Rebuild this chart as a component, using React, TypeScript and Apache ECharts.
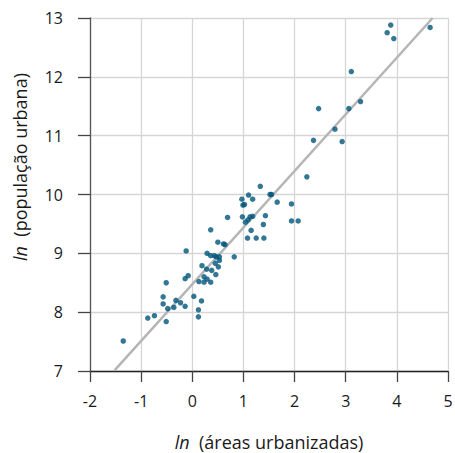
import React, { useEffect, useRef } from "react";
import * as echarts from "echarts";

const areaLn = [
  -1.35, -0.87, -0.74, -0.51, -0.57, -0.57, -0.48, -0.51, -0.36, -0.32,
  -0.23, -0.14, -0.14, -0.08, -0.12, 0.03, 0.12, 0.12, 0.18, 0.13,
  0.23, 0.23, 0.29, 0.36, 0.19, 0.28, 0.38, 0.46, 0.29, 0.36,
  0.43, 0.47, 0.53, 0.53, 0.45, 0.51, 0.36, 0.5, 0.61, 0.64,
  0.69, 0.82, 0.97, 1.1, 0.99, 1.02, 1.18, 0.98, 1.04, 1.09,
  1.13, 1.18, 1.15, 1.08, 1.25, 1.4, 1.39, 1.43, 1.33, 1.52,
  1.55, 1.66, 1.94, 1.94, 2.07, 2.24, 2.37, 2.47, 2.79, 2.93,
  3.06, 3.29, 3.11, 3.81, 3.88, 3.94, 4.65,
];
const popLn = [
  7.51, 7.9, 7.94, 7.84, 8.26, 8.14, 8.06, 8.5, 8.08, 8.2,
  8.16, 8.1, 8.57, 8.62, 9.04, 8.27, 8.04, 7.92, 8.19, 8.52,
  8.6, 8.51, 8.56, 8.51, 8.79, 8.73, 8.71, 8.64, 9.0, 8.96,
  8.96, 8.94, 8.94, 8.88, 8.83, 8.77, 9.4, 9.19, 9.16, 9.15,
  9.61, 8.94, 9.92, 9.99, 9.82, 9.83, 9.92, 9.62, 9.53, 9.57,
  9.62, 9.63, 9.39, 9.26, 9.26, 9.26, 9.49, 9.64, 10.14, 10.0,
  10.0, 9.87, 9.84, 9.55, 9.55, 10.3, 10.92, 11.46, 11.11, 10.9,
  11.46, 11.58, 12.09, 12.75, 12.88, 12.65, 12.84,
];
const fitLine = [
  [-1.52, 7.01],
  [4.7, 13.0],
];
const xTitle = "{i|ln}  (áreas urbanizadas)";
const yTitle = "{i|ln}  (população urbana)";

const FONT = "Open Sans";
const TXT = "#1a1a1a";
const TITLE_SIZE = 18;

export default function App() {
  const ref = useRef<HTMLDivElement>(null);
  useEffect(() => {
    if (!ref.current) return;
    const chart = echarts.init(ref.current, undefined, { renderer: "svg" });
    const rich = {
      i: { fontStyle: "italic", fontFamily: FONT, fontSize: TITLE_SIZE, lineHeight: 18, color: TXT },
    };
    chart.setOption({
      animation: false,
      grid: { left: 90, right: 7, top: 18, bottom: 82, containLabel: false, outerBoundsMode: "none" },
      graphic: [
        {
          type: "text",
          x: 20,
          y: 167,
          rotation: Math.PI / 2,
          style: {
            text: yTitle,
            fontFamily: FONT,
            fontSize: TITLE_SIZE,
            fill: TXT,
            align: "center",
            verticalAlign: "middle",
            rich,
          },
        },
      ],
      xAxis: {
        type: "value",
        min: -2,
        max: 5,
        interval: 1,
        name: xTitle,
        nameLocation: "middle",
        nameGap: 62,
        nameTextStyle: { fontFamily: FONT, fontSize: TITLE_SIZE, lineHeight: 18, color: TXT, rich },
        axisLine: { show: true, onZero: false, lineStyle: { color: "#222", width: 1.3 } },
        axisTick: { show: true, length: 11, inside: false, lineStyle: { color: "#444", width: 1.3 } },
        axisLabel: { margin: 22, fontFamily: FONT, fontSize: 16, color: TXT },
        splitLine: { show: true, lineStyle: { color: "#d6d6d6", width: 1.3 } },
      },
      yAxis: {
        type: "value",
        min: 7,
        max: 13,
        interval: 1,
        axisLine: { show: true, onZero: false, lineStyle: { color: "#555", width: 1.3 } },
        axisTick: { show: true, length: 12, inside: false, lineStyle: { color: "#444", width: 1.3 } },
        axisLabel: { margin: 27, fontFamily: FONT, fontSize: 16, color: TXT },
        splitLine: { show: true, lineStyle: { color: "#d6d6d6", width: 1.3 } },
      },
      series: [
        {
          type: "line",
          data: fitLine,
          symbol: "none",
          lineStyle: { color: "#b5b5b5", width: 2.5 },
          z: 2,
        },
        {
          type: "scatter",
          data: areaLn.map((x, i) => [x, popLn[i]]),
          symbolSize: 5.5,
          itemStyle: { color: "#00557a" },
          z: 3,
        },
      ],
    });
    return () => chart.dispose();
  }, []);
  return <div ref={ref} style={{ width: 455, height: 453, position: "absolute", left: 0, top: 0 }} />;
}
